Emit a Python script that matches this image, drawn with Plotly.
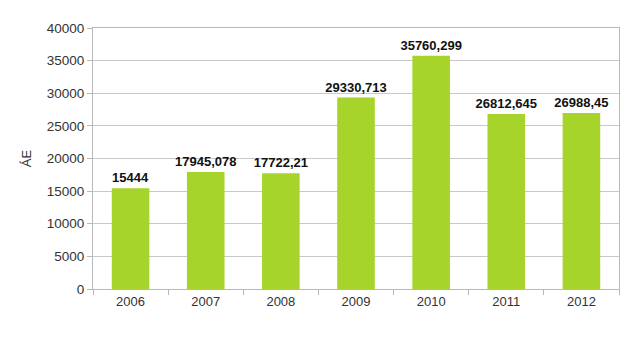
import plotly.graph_objects as go

years = ["2006", "2007", "2008", "2009", "2010", "2011", "2012"]
values = [15444, 17945.078, 17722.21, 29330.713, 35760.299, 26812.645, 26988.45]
y_ticks = [0, 5000, 10000, 15000, 20000, 25000, 30000, 35000, 40000]
y_tick_text = ["0", "5000", "10000", "15000", "20000", "25000", "30000", "35000", "40000"]

labels = [str(v).replace(".", ",") for v in values]

fig = go.Figure(go.Bar(
    x=years, y=values, text=labels, textposition="outside",
    constraintext="none",
    textfont=dict(family="Liberation Sans, Arial", size=13, color="#111111", weight="bold"),
    marker=dict(color="#A6D42A", line=dict(width=0)),
    width=0.5, cliponaxis=False,
))

fig.update_layout(
    width=637, height=337,
    margin=dict(l=93, r=18, t=28, b=48),
    plot_bgcolor="white", paper_bgcolor="white",
    showlegend=False,
    uniformtext=dict(minsize=13, mode="show"),
    font=dict(family="Liberation Sans, Arial", size=13, color="#333333"),
)
fig.update_xaxes(
    showline=True, linecolor="#b8b8b8", linewidth=1, mirror=True,
    ticks="outside", tickson="boundaries", ticklen=5, tickcolor="#b8b8b8",
    showgrid=False, tickfont=dict(size=13, color="#333333"),
)
fig.update_yaxes(
    range=[0, 40000], tickvals=y_ticks, ticktext=y_tick_text,
    showline=True, linecolor="#b8b8b8", linewidth=1, mirror=True,
    ticks="outside", ticklen=5, tickcolor="#b8b8b8",
    showgrid=True, gridcolor="#c8c8c8", gridwidth=1,
    zeroline=False,
    tickfont=dict(size=13.5, color="#333333"),
    title=dict(text="ÁE", font=dict(size=13, color="#333333"), standoff=12),
)

fig.write_html("out.html")
